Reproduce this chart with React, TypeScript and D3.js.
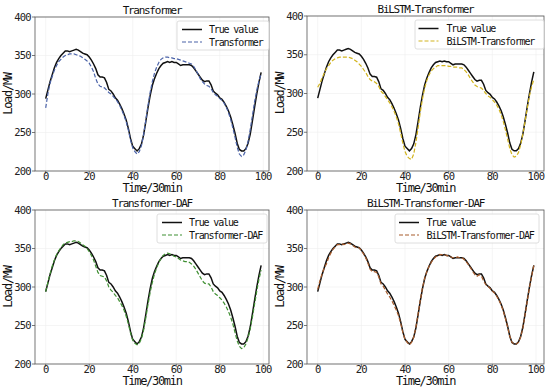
import React from "react";
import * as d3 from "d3";

const trueValue = [
  294, 305, 316, 325, 334, 341, 346, 350, 353, 356,
  356, 355, 356, 357, 358, 357, 355, 353, 352, 351,
  348, 344, 339, 333, 325, 322, 322, 321, 315, 306,
  304, 300, 295, 292, 287, 281, 274, 266, 255, 242,
  232, 229, 226, 229, 235, 247, 264, 282, 298, 311,
  320, 327, 333, 337, 340, 341, 342, 341, 342, 341,
  341, 339, 337, 338, 338, 338, 338, 337, 334, 330,
  326, 322, 318, 316, 317, 317, 312, 304, 301, 299,
  295, 293, 289, 284, 278, 270, 260, 249, 236, 228,
  226, 226, 229, 236, 248, 265, 283, 300, 315, 328,
];

const transformer = [
  282, 300, 314, 323, 331, 337, 342, 345, 348, 350,
  351, 352, 352, 352, 351, 350, 349, 347, 345, 343,
  340, 335, 329, 320, 313, 310, 309, 308, 305, 302,
  300, 297, 294, 290, 285, 279, 272, 264, 253, 240,
  230, 225, 222, 225, 233, 247, 266, 285, 302, 316,
  327, 335, 341, 345, 347, 348, 348, 347, 347, 346,
  346, 345, 344, 343, 342, 341, 340, 339, 336, 331,
  326, 320, 316, 313, 311, 310, 307, 302, 299, 297,
  294, 292, 288, 283, 276, 267, 256, 244, 231, 222,
  219, 221, 227, 238, 254, 272, 290, 305, 317, 326,
];

const bilstmTransformer = [
  308, 313, 320, 326, 332, 336, 340, 343, 345, 346,
  347, 347, 347, 347, 347, 346, 345, 343, 341, 338,
  335, 331, 327, 322, 318, 316, 315, 313, 309, 303,
  300, 296, 292, 288, 283, 277, 270, 261, 249, 236,
  225, 219, 216, 215, 222, 237, 256, 276, 293, 307,
  317, 324, 329, 332, 334, 336, 336, 336, 336, 336,
  335, 335, 334, 334, 334, 333, 333, 331, 328, 324,
  319, 315, 311, 309, 308, 307, 304, 300, 297, 295,
  292, 289, 285, 280, 273, 264, 253, 241, 229, 221,
  218, 219, 224, 234, 248, 264, 281, 297, 309, 318,
];

const transformerDaf = [
  294, 306, 317, 327, 335, 342, 347, 351, 355, 357,
  358, 359, 359, 360, 360, 359, 357, 355, 353, 350,
  346, 341, 335, 327, 319, 315, 314, 313, 308, 300,
  296, 293, 289, 286, 281, 276, 270, 262, 252, 240,
  231, 227, 225, 227, 233, 244, 260, 277, 293, 306,
  317, 325, 332, 337, 341, 343, 344, 343, 342, 340,
  339, 337, 335, 334, 333, 333, 332, 330, 327, 323,
  318, 313, 308, 305, 304, 304, 300, 294, 291, 289,
  286, 283, 279, 274, 268, 261, 252, 241, 230, 223,
  220, 221, 226, 234, 246, 261, 278, 295, 310, 322,
];

const bilstmTransformerDaf = [
  297, 308, 317, 325, 330, 338, 344, 349, 352, 355,
  355, 356, 355, 356, 357, 356, 354, 352, 351, 351,
  347, 343, 338, 331, 323, 320, 320, 319, 313, 304,
  301, 296, 291, 287, 282, 276, 270, 263, 253, 241,
  232, 228, 225, 228, 235, 248, 265, 283, 299, 311,
  320, 327, 332, 336, 339, 341, 342, 342, 342, 341,
  340, 339, 338, 338, 339, 338, 338, 336, 333, 329,
  325, 320, 316, 314, 316, 314, 308, 303, 301, 298,
  295, 292, 288, 283, 277, 269, 259, 248, 236, 228,
  226, 226, 228, 235, 247, 264, 282, 299, 314, 328,
];

const xTicks = [0, 20, 40, 60, 80, 100];
const yTicks = [200, 250, 300, 350, 400];

const panels = [
  { title: "Transformer", pred: transformer, color: "#4a62a8",
    left: 35, right: 269, top: 17, bottom: 171, x0: 45.7, x100: 263.3,
    legend: { x: 177, w: 92, line: 5, text: 32 } },
  { title: "BiLSTM-Transformer", pred: bilstmTransformer, color: "#d2b41e",
    left: 307, right: 544, top: 16, bottom: 171, x0: 317.7, x100: 536,
    legend: { x: 415, w: 129, line: 3.5, text: 31.5 } },
  { title: "Transformer-DAF", pred: transformerDaf, color: "#3f8f32",
    left: 35, right: 269, top: 210, bottom: 364, x0: 45.7, x100: 263.3,
    legend: { x: 157, w: 110, line: 5, text: 32 } },
  { title: "BiLSTM-Transformer-DAF", pred: bilstmTransformerDaf, color: "#a85c2c",
    left: 307, right: 544, top: 210, bottom: 364, x0: 317.7, x100: 536,
    legend: { x: 395, w: 144, line: 4, text: 31.5 } },
];

const FONT = "'DejaVu Sans Mono', monospace";

function Panel({ p }: { p: (typeof panels)[number] }) {
  const x = d3.scaleLinear().domain([0, 100]).range([p.x0, p.x100]);
  const y = d3.scaleLinear().domain([200, 400]).range([p.bottom, p.top]);
  const line = d3
    .line<number>()
    .x((_, i) => x(i))
    .y((d) => y(d));
  const midX = (p.left + p.right) / 2;
  const midY = (p.top + p.bottom) / 2;
  const lg = p.legend;
  const ly = p.top + 4;

  return (
    <g>
      <rect x={p.left} y={p.top} width={p.right - p.left} height={p.bottom - p.top} fill="#fff" />
      {xTicks.map((t) => (
        <line key={"gx" + t} x1={x(t)} x2={x(t)} y1={p.top} y2={p.bottom} stroke="#eeeeee" strokeWidth={0.6} />
      ))}
      {yTicks.map((t) => (
        <line key={"gy" + t} x1={p.left} x2={p.right} y1={y(t)} y2={y(t)} stroke="#eeeeee" strokeWidth={0.6} />
      ))}
      <path d={line(trueValue) || ""} fill="none" stroke="#111" strokeWidth={1.5} />
      <path d={line(p.pred) || ""} fill="none" stroke={p.color} strokeWidth={1.2} strokeDasharray="4,2" />
      <rect x={p.left} y={p.top} width={p.right - p.left} height={p.bottom - p.top} fill="none" stroke="#555" strokeWidth={0.8} />
      {xTicks.map((t) => (
        <g key={"xt" + t}>
          <line x1={x(t)} x2={x(t)} y1={p.bottom} y2={p.bottom + 3} stroke="#555" strokeWidth={0.8} />
          <text x={x(t)} y={p.bottom + 8.5} textAnchor="middle" fontSize={10.5} letterSpacing={-0.7} fontFamily={FONT} fill="#222">
            {t}
          </text>
        </g>
      ))}
      {yTicks.map((t) => (
        <g key={"yt" + t}>
          <line x1={p.left - 3} x2={p.left} y1={y(t)} y2={y(t)} stroke="#555" strokeWidth={0.8} />
          <text x={p.left - 4} y={y(t) + 3.7} textAnchor="end" fontSize={10.5} letterSpacing={-0.7} fontFamily={FONT} fill="#222">
            {t}
          </text>
        </g>
      ))}
      <text x={midX} y={p.top - 3.5} textAnchor="middle" fontSize={11} letterSpacing={-1.3} fontFamily={FONT} fill="#111">
        {p.title}
      </text>
      <text x={midX} y={p.bottom + 21} textAnchor="middle" fontSize={12} letterSpacing={-1.3} fontFamily={FONT} fill="#111">
        Time/30min
      </text>
      <text
        transform={`translate(${p.left - 23},${midY}) rotate(-90)`}
        textAnchor="middle"
        fontSize={12}
        letterSpacing={-1.3}
        fontFamily={FONT}
        fill="#111"
      >
        Load/MW
      </text>
      <g>
        <rect x={lg.x} y={ly} width={lg.w} height={29} rx={2} fill="#fff" fillOpacity={0.85} stroke="#d5d5d5" strokeWidth={0.8} />
        <line x1={lg.x + lg.line} x2={lg.x + lg.line + 20} y1={ly + 8.5} y2={ly + 8.5} stroke="#111" strokeWidth={1.5} />
        <line x1={lg.x + lg.line} x2={lg.x + lg.line + 20} y1={ly + 21} y2={ly + 21} stroke={p.color} strokeWidth={1.2} strokeDasharray="4,2" />
        <text x={lg.x + lg.text} y={ly + 11.8} fontSize={10} letterSpacing={-1.15} fontFamily={FONT} fill="#111">
          True value
        </text>
        <text x={lg.x + lg.text} y={ly + 24.8} fontSize={10} letterSpacing={-1.15} fontFamily={FONT} fill="#111">
          {p.title}
        </text>
      </g>
    </g>
  );
}

export default function App() {
  return (
    <div style={{ position: "fixed", left: 0, top: 0 }}>
      <svg width={550} height={392} style={{ display: "block", background: "#fff" }}>
        {panels.map((p) => (
          <Panel key={p.title} p={p} />
        ))}
      </svg>
    </div>
  );
}
